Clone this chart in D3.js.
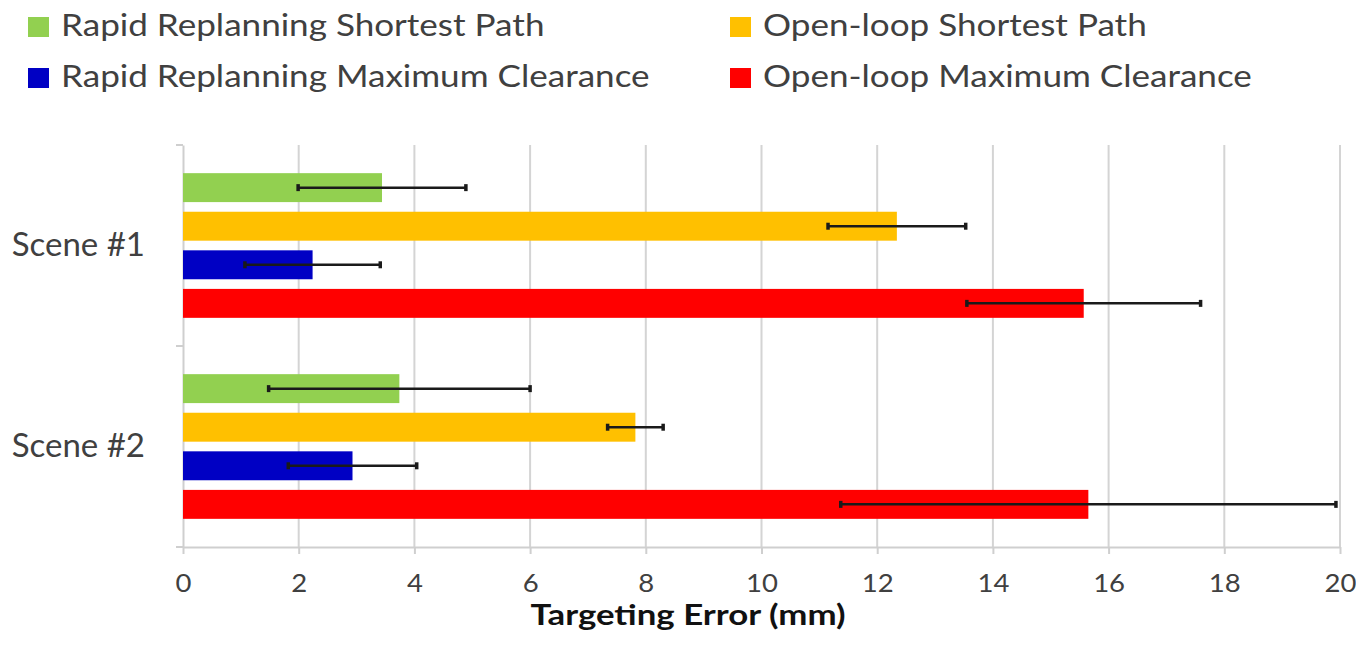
<!DOCTYPE html>
<html>
<head>
<meta charset="utf-8">
<script src="https://cdn.jsdelivr.net/npm/d3@7"></script>
<style>
  html, body { margin: 0; padding: 0; background: #fff; }
  svg { display: block; }
  text { font-family: Lato, "Open Sans", sans-serif; }
</style>
</head>
<body>
<svg id="chart" width="1356" height="652"></svg>
<script>
// Targeting error per scene and planning strategy (mm), mean and ± spread
const scenes = ["Scene #1", "Scene #2"];
const seriesNames = [
  "Rapid Replanning Shortest Path",
  "Open-loop Shortest Path",
  "Rapid Replanning Maximum Clearance",
  "Open-loop Maximum Clearance"
];
const seriesColors = ["#92d050", "#ffc000", "#0000c4", "#ff0000"];
const rapidShortest   = [3.44, 3.74];
const openShortest    = [12.34, 7.82];
const rapidClearance  = [2.24, 2.93];
const openClearance   = [15.57, 15.65];
const rapidShortestErr  = [1.45, 2.26];
const openShortestErr   = [1.19, 0.48];
const rapidClearanceErr = [1.17, 1.11];
const openClearanceErr  = [2.02, 4.28];
const xTicks = [0, 2, 4, 6, 8, 10, 12, 14, 16, 18, 20];
const xTitle = "Targeting Error (mm)";

const means = [rapidShortest, openShortest, rapidClearance, openClearance];
const errs  = [rapidShortestErr, openShortestErr, rapidClearanceErr, openClearanceErr];

const rows = [];
scenes.forEach((scene, si) => {
  seriesNames.forEach((name, k) => {
    rows.push({ scene, name, color: seriesColors[k], value: means[k][si], err: errs[k][si] });
  });
});

// the typeface is drawn slightly widened
const legendStretch = 1.17;
const titleStretch = 1.2;
const tickStretch = 1.1;

const svg = d3.select("#chart");
const plot = { left: 183, right: 1340, top: 145, bottom: 547 };

const x = d3.scaleLinear().domain([0, 20]).range([plot.left, plot.right]);
const y0 = d3.scaleBand().domain(scenes).range([plot.top, plot.bottom]);
const y1 = d3.scaleBand().domain(seriesNames).range([0, y0.bandwidth()])
  .paddingInner(0.25).paddingOuter(0.73);

// vertical gridlines
svg.append("g")
  .selectAll("line")
  .data(xTicks.filter(t => t > 0))
  .join("line")
  .attr("x1", d => x(d)).attr("x2", d => x(d))
  .attr("y1", plot.top).attr("y2", plot.bottom)
  .attr("stroke", "#d4d4d4").attr("stroke-width", 2);

// x axis
const xAxis = svg.append("g")
  .attr("transform", `translate(0,${plot.bottom})`)
  .call(d3.axisBottom(x).tickValues(xTicks).tickSize(7).tickPadding(20).tickSizeOuter(0));
xAxis.select(".domain").attr("stroke", "#cfcfcf").attr("stroke-width", 2);
xAxis.selectAll(".tick line").attr("stroke", "#cfcfcf").attr("stroke-width", 2);
xAxis.selectAll(".tick text")
  .attr("font-family", "Lato, sans-serif")
  .attr("font-size", 25).attr("fill", "#404040")
  .attr("transform", `scale(${tickStretch},1)`);

// y axis (category)
const yAxis = svg.append("g")
  .attr("transform", `translate(${plot.left},0)`)
  .call(d3.axisLeft(y0).tickValues([]).tickSizeOuter(0));
yAxis.select(".domain").attr("stroke", "#cfcfcf").attr("stroke-width", 2);
// boundary ticks between categories
const bounds = [plot.top, plot.top + y0.step(), plot.bottom];
yAxis.selectAll(".bound")
  .data(bounds)
  .join("line")
  .attr("class", "bound")
  .attr("x1", -7).attr("x2", 0)
  .attr("y1", d => d).attr("y2", d => d)
  .attr("stroke", "#cfcfcf").attr("stroke-width", 2);

// category labels
svg.append("g")
  .selectAll("text")
  .data(scenes)
  .join("text")
  .attr("x", 145)
  .attr("y", d => y0(d) + y0.bandwidth() / 2 + 10)
  .attr("text-anchor", "end")
  .attr("font-size", 33)
  .attr("fill", "#404040")
  .text(d => d);

// bars
svg.append("g")
  .selectAll("rect")
  .data(rows)
  .join("rect")
  .attr("x", x(0))
  .attr("y", d => y0(d.scene) + y1(d.name))
  .attr("width", d => x(d.value) - x(0))
  .attr("height", y1.bandwidth())
  .attr("fill", d => d.color);

// error bars
const eb = svg.append("g").attr("stroke", "#1a1a1a").attr("stroke-width", 2.5);
eb.selectAll("line.whisker")
  .data(rows)
  .join("line")
  .attr("class", "whisker")
  .attr("x1", d => x(d.value - d.err)).attr("x2", d => x(d.value + d.err))
  .attr("y1", d => y0(d.scene) + y1(d.name) + y1.bandwidth() / 2)
  .attr("y2", d => y0(d.scene) + y1(d.name) + y1.bandwidth() / 2);
["lo", "hi"].forEach(side => {
  eb.selectAll("line.cap-" + side)
    .data(rows)
    .join("line")
    .attr("class", "cap-" + side)
    .attr("x1", d => x(side === "lo" ? d.value - d.err : d.value + d.err))
    .attr("x2", d => x(side === "lo" ? d.value - d.err : d.value + d.err))
    .attr("y1", d => y0(d.scene) + y1(d.name) + y1.bandwidth() / 2 - 3.5)
    .attr("y2", d => y0(d.scene) + y1(d.name) + y1.bandwidth() / 2 + 3.5)
    .attr("stroke-width", 3.5);
});

// x axis title
svg.append("g")
  .attr("transform", `translate(688,625) scale(${titleStretch},1)`)
  .append("text")
  .attr("text-anchor", "middle")
  .attr("font-size", 29)
  .attr("font-weight", "bold")
  .attr("fill", "#111")
  .text(xTitle);

// legend: two columns, two rows
const legendPos = [
  { x: 28, y: 36 },
  { x: 730, y: 36 },
  { x: 28, y: 87 },
  { x: 730, y: 87 }
];
const legend = svg.append("g")
  .selectAll("g")
  .data(seriesNames)
  .join("g")
  .attr("transform", (d, i) => `translate(${legendPos[i].x},${legendPos[i].y})`);
legend.append("rect")
  .attr("x", 0).attr("y", -19)
  .attr("width", 21).attr("height", 20)
  .attr("fill", (d, i) => seriesColors[i]);
legend.append("g")
  .attr("transform", `translate(33,0) scale(${legendStretch},1)`)
  .append("text")
  .attr("font-size", 30)
  .attr("fill", "#404040")
  .text(d => d);
</script>
</body>
</html>
